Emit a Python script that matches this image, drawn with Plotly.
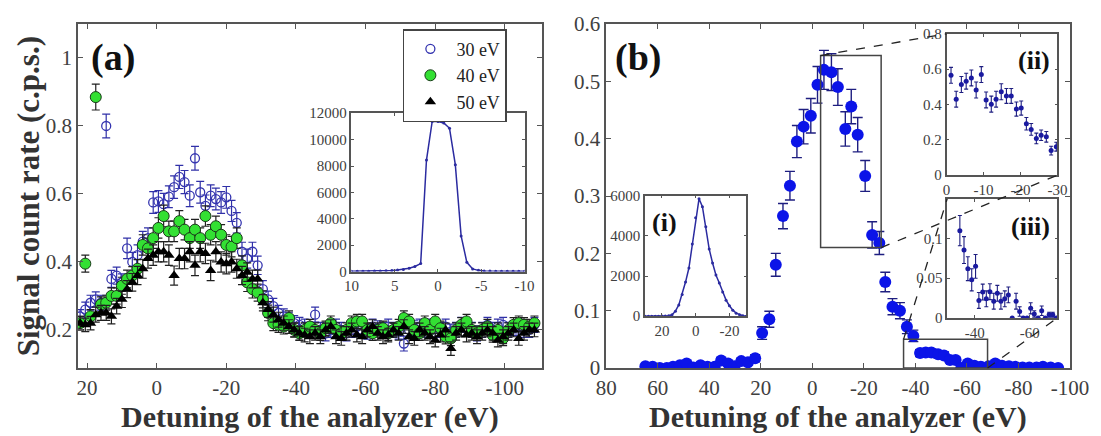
import plotly.graph_objects as go

# ---------------- panel (a): signal vs detuning ----------------
detuning_a = [22, 20.5, 19, 17.5, 16, 14.5, 13, 11.5, 10, 8.5,
              7, 5.5, 4, 2.5, 1, -0.5, -2, -3.5, -5, -6.5,
              -8, -9.5, -11, -12.5, -14, -15.5, -17, -18.5, -20, -21.5,
              -23, -24.5, -26, -27.5, -29, -30.5, -32, -33.5, -35, -36.5,
              -38, -39.5, -41, -42.5, -44, -45.5, -47, -48.5, -50, -51.5,
              -53, -54.5, -56, -57.5, -59, -60.5, -62, -63.5, -65, -66.5,
              -68, -69.5, -71, -72.5, -74, -75.5, -77, -78.5, -80, -81.5,
              -83, -84.5, -86, -87.5, -89, -90.5, -92, -93.5, -95, -96.5,
              -98, -99.5, -101, -102.5, -104, -105.5, -107, -108.5]

rate_30 = [0.24, 0.26, 0.28, 0.29, 0.28, 0.80, 0.35, 0.36, 0.34, 0.44,
           0.40, 0.42, 0.46, 0.47, 0.575, 0.578, 0.57, 0.592, 0.62, 0.65,
           0.635, 0.595, 0.705, 0.605, 0.565, 0.595, 0.585, 0.575, 0.59, 0.55,
           0.515, 0.43, 0.41, 0.43, 0.39, 0.32, 0.29, 0.27, 0.25, 0.24,
           0.23, 0.22, 0.215, 0.21, 0.20, 0.245, 0.20, 0.19, 0.20, 0.21,
           0.20, 0.19, 0.20, 0.21, 0.20, 0.195, 0.21, 0.205, 0.20, 0.21,
           0.20, 0.195, 0.16, 0.20, 0.205, 0.21, 0.20, 0.21, 0.19, 0.20,
           0.21, 0.195, 0.20, 0.215, 0.205, 0.20, 0.19, 0.20, 0.215, 0.20,
           0.21, 0.215, 0.20, 0.205, 0.21, 0.20, 0.20, 0.215]
err_30 = [0.020, 0.022, 0.022, 0.022, 0.022, 0.035, 0.025, 0.025, 0.025, 0.030,
          0.028, 0.030, 0.030, 0.030, 0.032, 0.032, 0.032, 0.032, 0.033, 0.034,
          0.034, 0.032, 0.035, 0.032, 0.032, 0.032, 0.032, 0.032, 0.032, 0.031,
          0.030, 0.028, 0.028, 0.028, 0.027, 0.025, 0.024, 0.023, 0.022, 0.022,
          0.022, 0.022, 0.022, 0.022, 0.022, 0.022, 0.022, 0.022, 0.022, 0.022,
          0.022, 0.022, 0.022, 0.022, 0.022, 0.022, 0.022, 0.022, 0.022, 0.022,
          0.022, 0.022, 0.022, 0.022, 0.022, 0.022, 0.022, 0.022, 0.022, 0.022,
          0.022, 0.022, 0.022, 0.022, 0.022, 0.022, 0.022, 0.022, 0.022, 0.022,
          0.022, 0.022, 0.022, 0.022, 0.022, 0.022, 0.022, 0.022]

rate_40 = [0.22, 0.395, 0.24, 0.885, 0.275, 0.28, 0.30, 0.30, 0.33, 0.35,
           0.36, 0.38, 0.45, 0.44, 0.47, 0.50, 0.535, 0.49, 0.49, 0.52,
           0.495, 0.47, 0.495, 0.47, 0.535, 0.48, 0.505, 0.48, 0.45, 0.445,
           0.47, 0.39, 0.34, 0.32, 0.31, 0.29, 0.25, 0.22, 0.215, 0.21,
           0.235, 0.20, 0.19, 0.20, 0.21, 0.20, 0.19, 0.205, 0.22, 0.20,
           0.19, 0.20, 0.22, 0.225, 0.225, 0.20, 0.19, 0.20, 0.205, 0.19,
           0.20, 0.21, 0.235, 0.225, 0.20, 0.19, 0.22, 0.20, 0.225, 0.205,
           0.18, 0.175, 0.20, 0.215, 0.225, 0.20, 0.19, 0.20, 0.21, 0.185,
           0.20, 0.175, 0.20, 0.215, 0.22, 0.215, 0.21, 0.22]
err_40 = [0.020, 0.025, 0.020, 0.038, 0.022, 0.022, 0.024, 0.024, 0.025, 0.026,
          0.026, 0.027, 0.030, 0.030, 0.030, 0.030, 0.032, 0.030, 0.030, 0.031,
          0.030, 0.030, 0.030, 0.030, 0.030, 0.030, 0.030, 0.030, 0.030, 0.030,
          0.030, 0.028, 0.027, 0.026, 0.025, 0.025, 0.023, 0.022, 0.022, 0.022,
          0.021, 0.021, 0.021, 0.021, 0.021, 0.021, 0.021, 0.021, 0.021, 0.021,
          0.021, 0.021, 0.021, 0.021, 0.021, 0.021, 0.021, 0.021, 0.021, 0.021,
          0.021, 0.021, 0.021, 0.021, 0.021, 0.021, 0.021, 0.021, 0.021, 0.021,
          0.021, 0.021, 0.021, 0.021, 0.021, 0.021, 0.021, 0.021, 0.021, 0.021,
          0.021, 0.021, 0.021, 0.021, 0.021, 0.021, 0.021, 0.021]

rate_50 = [0.22, 0.215, 0.22, 0.245, 0.25, 0.25, 0.24, 0.27, 0.29, 0.32,
           0.34, 0.36, 0.38, 0.41, 0.42, 0.43, 0.43, 0.42, 0.36, 0.41,
           0.41, 0.43, 0.39, 0.43, 0.425, 0.375, 0.43, 0.40, 0.395, 0.40,
           0.38, 0.36, 0.37, 0.35, 0.35, 0.28, 0.26, 0.245, 0.23, 0.22,
           0.21, 0.20, 0.19, 0.185, 0.18, 0.19, 0.18, 0.20, 0.21, 0.18,
           0.175, 0.19, 0.20, 0.185, 0.18, 0.20, 0.21, 0.19, 0.18, 0.185,
           0.20, 0.19, 0.21, 0.18, 0.175, 0.20, 0.19, 0.18, 0.17, 0.185,
           0.20, 0.145, 0.19, 0.20, 0.185, 0.19, 0.18, 0.19, 0.20, 0.19,
           0.17, 0.18, 0.19, 0.20, 0.175, 0.19, 0.20, 0.20]
err_50 = [0.020, 0.020, 0.020, 0.022, 0.022, 0.022, 0.022, 0.023, 0.024, 0.025,
          0.026, 0.027, 0.028, 0.028, 0.030, 0.030, 0.030, 0.030, 0.028, 0.030,
          0.030, 0.030, 0.030, 0.030, 0.030, 0.030, 0.030, 0.030, 0.030, 0.030,
          0.028, 0.027, 0.027, 0.026, 0.026, 0.024, 0.023, 0.022, 0.022, 0.021,
          0.020, 0.020, 0.020, 0.020, 0.020, 0.020, 0.020, 0.020, 0.020, 0.020,
          0.020, 0.020, 0.020, 0.020, 0.020, 0.020, 0.020, 0.020, 0.020, 0.020,
          0.020, 0.020, 0.020, 0.020, 0.020, 0.020, 0.020, 0.020, 0.020, 0.020,
          0.020, 0.020, 0.020, 0.020, 0.020, 0.020, 0.020, 0.020, 0.020, 0.020,
          0.020, 0.020, 0.020, 0.020, 0.020, 0.020, 0.020, 0.020]

series_names = ["30 eV", "40 eV", "50 eV"]

# inset of panel (a)
inset_a_x = [10, 9.33, 8.67, 8, 7.33, 6.67, 6, 5.33, 4.67, 4, 3.33, 2.67, 2, 1.33, 0.67,
             0, -0.67, -1.33, -2, -2.67, -3.33, -4, -4.67, -5.33, -6, -6.67, -7.33, -8,
             -8.67, -9.33, -10]
inset_a_y = [20, 22, 25, 30, 40, 50, 60, 80, 110, 160, 250, 380, 600, 8450, 11380,
             11380, 11260, 10860, 8100, 2700, 700, 200, 90, 50, 35, 30, 25, 20,
             20, 20, 20]

# ---------------- panel (b) ----------------
detuning_b = [64.8, 62.0, 59.2, 56.5, 54.1, 51.4, 48.8, 46.2, 43.4, 40.7,
              37.9, 35.4, 32.7, 30.2, 27.6, 25.0, 22.2, 19.5, 16.7, 14.2,
              11.4, 8.7, 6.0, 3.4, 0.6, -2.0, -4.5, -7.4, -9.9, -12.8,
              -15.1, -17.6, -20.5, -23.2, -26.0, -28.3, -31.1, -34.0, -36.7, -39.2,
              -41.8, -44.0, -46.2, -48.8, -51.1, -53.4, -55.6, -57.8, -60.3, -62.9,
              -65.4, -68.4, -71.0, -73.6, -76.3, -78.8, -81.6, -84.2, -87.0, -89.5,
              -92.5, -95.4]
rate_b = [0.003, 0.002, 0.0, 0.0, 0.002, 0.005, 0.008, 0.001, 0.005, 0.002,
          0.002, 0.013, 0.008, 0.003, 0.012, 0.010, 0.017, 0.061, 0.085, 0.180,
          0.265, 0.318, 0.395, 0.421, 0.440, 0.494, 0.520, 0.516, 0.490, 0.417,
          0.456, 0.407, 0.335, 0.232, 0.218, 0.150, 0.107, 0.100, 0.072, 0.056,
          0.026, 0.027, 0.027, 0.024, 0.022, 0.014, 0.014, 0.0, 0.008, 0.004,
          0.002, 0.003, 0.008, 0.004, 0.003, 0.002, 0.001, 0.001, 0.001, 0.002,
          0.001, 0.0]
err_b = [0.003, 0.003, 0.002, 0.002, 0.003, 0.003, 0.004, 0.002, 0.003, 0.003,
         0.003, 0.005, 0.004, 0.003, 0.005, 0.005, 0.006, 0.011, 0.014, 0.020,
         0.022, 0.025, 0.028, 0.030, 0.030, 0.032, 0.034, 0.032, 0.032, 0.030,
         0.030, 0.030, 0.027, 0.023, 0.020, 0.017, 0.014, 0.014, 0.012, 0.010,
         0.006, 0.006, 0.006, 0.006, 0.006, 0.005, 0.005, 0.002, 0.004, 0.003,
         0.003, 0.003, 0.004, 0.003, 0.003, 0.003, 0.002, 0.002, 0.002, 0.003,
         0.002, 0.002]

# inset (i)
inset_i_x = [30, 28, 26, 24, 22, 20, 18, 16, 14, 12, 10, 8, 6, 4, 2, 0, -2, -4, -6, -8,
             -10, -12, -14, -16, -18, -20, -22, -24, -26, -28, -30]
inset_i_y = [0, 0, 0, 0, 0, 5, 10, 20, 70, 250, 560, 1080, 1700, 2400, 3600, 4900, 5850,
             5450, 4450, 3350, 2650, 2050, 1650, 1200, 800, 520, 300, 150, 70, 20, 0]

# inset (ii)
inset_ii_x = [-1.2, -2.6, -4.0, -5.3, -6.7, -8.0, -9.4, -10.7, -12.1, -13.4, -14.8,
              -16.2, -17.5, -18.9, -20.2, -21.6, -22.9, -24.3, -25.6, -27.0, -28.3, -29.7]
inset_ii_y = [0.565, 0.43, 0.513, 0.532, 0.55, 0.482, 0.569, 0.426, 0.402, 0.43, 0.472,
              0.448, 0.448, 0.374, 0.38, 0.291, 0.259, 0.208, 0.226, 0.217, 0.139, 0.161]
inset_ii_err = [0.045, 0.045, 0.045, 0.045, 0.045, 0.045, 0.045, 0.045, 0.045, 0.045, 0.045,
                0.042, 0.042, 0.040, 0.040, 0.035, 0.033, 0.030, 0.030, 0.030, 0.025, 0.025]

# inset (iii)
inset_iii_x = [-34.6, -36.1, -37.5, -38.9, -40.3, -41.5, -42.9, -44.2, -45.5, -46.9,
               -48.2, -49.5, -50.9, -52.2, -53.6, -55.0, -56.3, -57.6, -59.0, -60.3,
               -61.6, -63.0, -64.3, -65.6, -67.0, -68.3, -69.6]
inset_iii_y = [0.110, 0.0855, 0.062, 0.048, 0.065, 0.022, 0.0325, 0.024, 0.033, 0.021,
               0.031, 0.021, 0.024, 0.029, 0.0, 0.021, 0.008, 0.0, 0.0, 0.012,
               0.005, 0.0, 0.009, 0.0, 0.004, 0.004, 0.0]
inset_iii_err = [0.019, 0.017, 0.015, 0.014, 0.015, 0.010, 0.010, 0.010, 0.010, 0.010,
                 0.010, 0.010, 0.010, 0.010, 0.0, 0.010, 0.006, 0.0, 0.0, 0.007,
                 0.004, 0.0, 0.006, 0.0, 0.003, 0.003, 0.0]

# ---------------- figure ----------------
SERIF = "Liberation Serif"
TICKC = "#404040"
LINEC = "#555555"

fig = go.Figure()

# panel (a) series
fig.add_trace(go.Scatter(
    x=detuning_a, y=rate_30, mode="markers", name=series_names[0],
    marker=dict(symbol="circle-open", size=9, color="#3535b0", line=dict(width=1.3, color="#3535b0")),
    error_y=dict(type="data", array=err_30, color="#3030a8", thickness=1.2, width=4),
    xaxis="x", yaxis="y"))
fig.add_trace(go.Scatter(
    x=detuning_a, y=rate_40, mode="markers", name=series_names[1],
    marker=dict(symbol="circle", size=11, color="#33e033", line=dict(width=1, color="#1a3a1a")),
    error_y=dict(type="data", array=err_40, color="#202020", thickness=1.2, width=4),
    xaxis="x", yaxis="y"))
fig.add_trace(go.Scatter(
    x=detuning_a, y=rate_50, mode="markers", name=series_names[2],
    marker=dict(symbol="triangle-up", size=10, color="#000000"),
    error_y=dict(type="data", array=err_50, color="#202020", thickness=1.2, width=4),
    xaxis="x", yaxis="y"))

# inset (a)
fig.add_trace(go.Scatter(
    x=inset_a_x, y=inset_a_y, mode="lines+markers", showlegend=False,
    line=dict(color="#2b2ba0", width=1.5), marker=dict(size=3, color="#2b2ba0"),
    xaxis="x3", yaxis="y3"))

# panel (b)
fig.add_trace(go.Scatter(
    x=detuning_b, y=rate_b, mode="markers", showlegend=False,
    marker=dict(symbol="circle", size=12, color="#0b14e8"),
    error_y=dict(type="data", array=err_b, color="#1e1e80", thickness=1.4, width=5),
    xaxis="x2", yaxis="y2"))

# inset (i)
fig.add_trace(go.Scatter(
    x=inset_i_x, y=inset_i_y, mode="lines+markers", showlegend=False,
    line=dict(color="#2b2ba0", width=1.5), marker=dict(size=3, color="#2b2ba0"),
    xaxis="x4", yaxis="y4"))

# inset (ii)
fig.add_trace(go.Scatter(
    x=inset_ii_x, y=inset_ii_y, mode="markers", showlegend=False,
    marker=dict(size=5, color="#1a1aa0"),
    error_y=dict(type="data", array=inset_ii_err, color="#1e1e80", thickness=1.1, width=2),
    xaxis="x5", yaxis="y5"))

# inset (iii)
fig.add_trace(go.Scatter(
    x=inset_iii_x, y=inset_iii_y, mode="markers", showlegend=False,
    marker=dict(size=5, color="#1a1aa0"),
    error_y=dict(type="data", array=inset_iii_err, color="#1e1e80", thickness=1.1, width=2),
    xaxis="x6", yaxis="y6"))


def ax(domain, rng, tickvals, ticktext, anchor, size=21, ticklen=5):
    return dict(domain=domain, range=rng, tickvals=tickvals, ticktext=ticktext,
                anchor=anchor, showline=True, linecolor=LINEC, linewidth=1.5,
                mirror="ticks", ticks="inside", ticklen=ticklen, tickcolor=LINEC,
                tickwidth=1.2, showgrid=False, zeroline=False,
                tickfont=dict(family=SERIF, size=size, color=TICKC))


# layout geometry (paper fractions)
A_DOM = [0.0, 0.4675]
B_DOM = [0.5325, 1.0]
B_XR = [80, -100]
B_YR = [0, 0.6]
INS_A = ([0.2756, 0.4502], [0.2804, 0.7406])
INS_I = ([0.5716, 0.6737], [0.1506, 0.5009])
INS_II = ([0.8756, 0.9873], [0.5605, 0.9716])
INS_III = ([0.8762, 0.9873], [0.1457, 0.4915])

fig.update_layout(
    width=1101, height=436,
    margin=dict(l=78, r=24, t=16, b=68),
    paper_bgcolor="white", plot_bgcolor="rgba(0,0,0,0)",
    xaxis=ax(A_DOM, [22.6, -110.6], [20, 0, -20, -40, -60, -80, -100],
             ["20", "0", "-20", "-40", "-60", "-80", "-100"], "y"),
    yaxis=ax([0, 1], [0.088, 1.1], [0.2, 0.4, 0.6, 0.8, 1.0],
             ["0.2", "0.4", "0.6", "0.8", "1"], "x"),
    xaxis2=ax(B_DOM, B_XR, [80, 60, 40, 20, 0, -20, -40, -60, -80, -100],
              ["80", "60", "40", "20", "0", "-20", "-40", "-60", "-80", "-100"], "y2"),
    yaxis2=ax([0, 1], B_YR, [0, 0.1, 0.2, 0.3, 0.4, 0.5, 0.6],
              ["0", "0.1", "0.2", "0.3", "0.4", "0.5", "0.6"], "x2"),
    xaxis3=ax(INS_A[0], [10, -10], [10, 5, 0, -5, -10], ["10", "5", "0", "-5", "-10"], "y3", 15, 3),
    yaxis3=ax(INS_A[1], [0, 12000], [0, 2000, 4000, 6000, 8000, 10000, 12000],
              ["0", "2000", "4000", "6000", "8000", "10000", "12000"], "x3", 15, 3),
    xaxis4=ax(INS_I[0], [30, -30], [20, 0, -20], ["20", "0", "-20"], "y4", 15, 3),
    yaxis4=ax(INS_I[1], [0, 6000], [0, 2000, 4000, 6000], ["0", "2000", "4000", "6000"], "x4", 15, 3),
    xaxis5=ax(INS_II[0], [0, -30], [0, -10, -20, -30], ["0", "-10", "-20", "-30"], "y5", 15, 3),
    yaxis5=ax(INS_II[1], [0, 0.8], [0, 0.2, 0.4, 0.6, 0.8], ["0", "0.2", "0.4", "0.6", "0.8"], "x5", 15, 3),
    xaxis6=ax(INS_III[0], [-30, -70], [-40, -60], ["-40", "-60"], "y6", 15, 3),
    yaxis6=ax(INS_III[1], [0, 0.15], [0, 0.05, 0.1], ["0", "0.05", "0.1"], "x6", 15, 3),
    legend=dict(x=0.3275, y=0.985, xanchor="left", yanchor="top",
                bgcolor="white", bordercolor="#444", borderwidth=1.5,
                font=dict(family=SERIF, size=18, color="#222"),
                itemwidth=42, tracegroupgap=0),
)


def bpaper(xv, yv):
    fx = B_DOM[0] + (xv - B_XR[0]) / (B_XR[1] - B_XR[0]) * (B_DOM[1] - B_DOM[0])
    fy = (yv - B_YR[0]) / (B_YR[1] - B_YR[0])
    return fx, fy


box_ii = (-3.2, -26.7, 0.21, 0.545)
box_iii = (-35.4, -68.0, 0.0, 0.05)
shapes = []
for bx in (box_ii, box_iii):
    shapes.append(dict(type="rect", xref="x2", yref="y2", x0=bx[0], x1=bx[1], y0=bx[2], y1=bx[3],
                       line=dict(color="#444", width=1.5)))
# connectors
c = [
    (bpaper(box_ii[0], box_ii[3]), (INS_II[0][0], INS_II[1][1])),
    (bpaper(box_ii[1], box_ii[2]), (INS_II[0][1], INS_II[1][0])),
    (bpaper(box_iii[0], box_iii[3]), (INS_III[0][0], INS_III[1][1])),
    (bpaper(box_iii[1], box_iii[2]), (INS_III[0][1], INS_III[1][0])),
]
for (p0, p1) in c:
    shapes.append(dict(type="line", xref="paper", yref="paper", x0=p0[0], y0=p0[1], x1=p1[0], y1=p1[1],
                       line=dict(color="#222", width=1.3, dash="dash")))
fig.update_layout(shapes=shapes)

TITLE_Y = (368 - 418) / 352
ann = [
    dict(text="(a)", x=0.011, y=0.903, xanchor="left", yanchor="middle",
         font=dict(family=SERIF, size=38, color="#111", weight="bold")),
    dict(text="(b)", x=0.5395, y=0.903, xanchor="left", yanchor="middle",
         font=dict(family=SERIF, size=38, color="#111", weight="bold")),
    dict(text="(i)", x=(669 - 78) / 999, y=(368 - 219) / 352, xanchor="center", yanchor="middle",
         font=dict(family=SERIF, size=26, color="#111", weight="bold")),
    dict(text="(ii)", x=(1041 - 78) / 999, y=(368 - 53) / 352, xanchor="center", yanchor="middle",
         font=dict(family=SERIF, size=26, color="#111", weight="bold")),
    dict(text="(iii)", x=(1037 - 78) / 999, y=(368 - 223) / 352, xanchor="center", yanchor="middle",
         font=dict(family=SERIF, size=26, color="#111", weight="bold")),
    dict(text="Detuning of the analyzer (eV)", x=sum(A_DOM) / 2, y=TITLE_Y, xanchor="center", yanchor="middle",
         font=dict(family=SERIF, size=30, color="#333", weight="bold")),
    dict(text="Detuning of the analyzer (eV)", x=sum(B_DOM) / 2, y=TITLE_Y, xanchor="center", yanchor="middle",
         font=dict(family=SERIF, size=30, color="#333", weight="bold")),
    dict(text="Signal count rate (c.p.s.)", x=(28 - 78) / 999, y=0.5, xanchor="center", yanchor="middle",
         textangle=-90, font=dict(family=SERIF, size=31, color="#333", weight="bold")),
]
for a in ann:
    a.update(xref="paper", yref="paper", showarrow=False)
fig.update_layout(annotations=ann)

fig.write_html("out.html")
